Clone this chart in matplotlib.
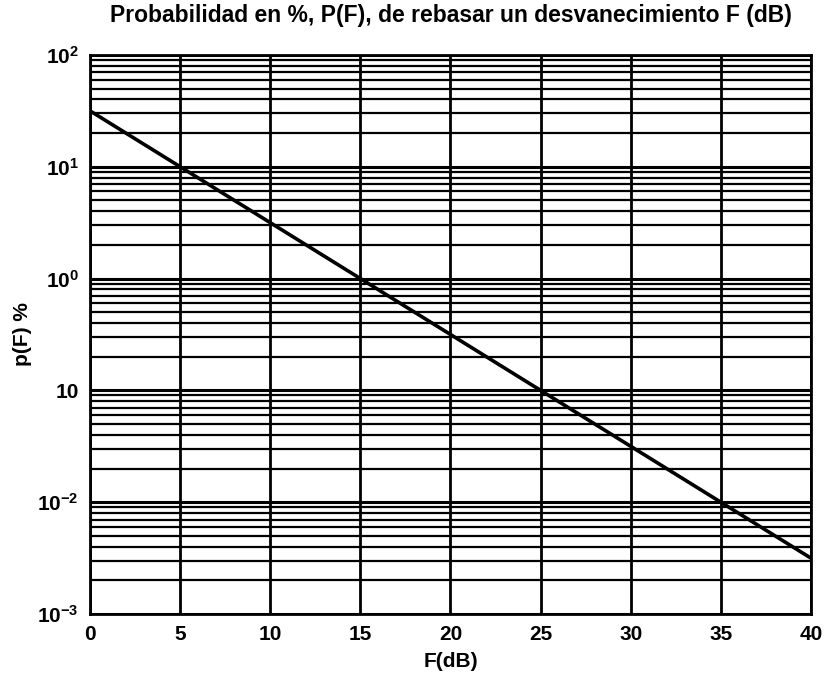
import matplotlib
matplotlib.use("Agg")
import matplotlib.pyplot as plt
import numpy as np
from matplotlib.ticker import FixedLocator, LogLocator, NullFormatter

plt.rcParams['font.family'] = ['Liberation Sans', 'DejaVu Sans']
plt.rcParams['mathtext.fontset'] = 'custom'
plt.rcParams['mathtext.rm'] = 'Liberation Sans:bold'
plt.rcParams['mathtext.it'] = 'Liberation Sans:bold'
plt.rcParams['mathtext.bf'] = 'Liberation Sans:bold'

# curve
fade_db = [0, 5, 10, 15, 20, 25, 30, 35, 40]
prob_pct = [31.6, 10, 3.16, 1.0, 0.316, 0.1, 0.0316, 0.01, 0.00316]

x_ticks = [0, 5, 10, 15, 20, 25, 30, 35, 40]
y_ticks = [1e-3, 1e-2, 1e-1, 1e0, 1e1, 1e2]
y_labels = [r'$10^{-3}$', r'$10^{-2}$', '10', r'$10^{0}$', r'$10^{1}$', r'$10^{2}$']

fig = plt.figure(figsize=(8.25, 6.77), dpi=100)
ax = fig.add_axes([0.109, 0.093, 0.874, 0.826])

ax.plot(fade_db, prob_pct, color='black', lw=2.6)

ax.set_yscale('log')
ax.set_xlim(0, 40)
ax.set_ylim(1e-3, 1e2)

ax.xaxis.set_major_locator(FixedLocator(x_ticks))
ax.set_xticklabels([str(v) for v in x_ticks], fontsize=15, fontweight='bold')
ax.yaxis.set_major_locator(FixedLocator(y_ticks))
ax.set_yticklabels(y_labels, fontsize=15, fontweight='bold')
ax.yaxis.set_minor_locator(LogLocator(base=10, subs=np.arange(2, 10)))
ax.yaxis.set_minor_formatter(NullFormatter())

ax.grid(True, which='major', axis='x', color='black', lw=2.0)
ax.grid(True, which='major', axis='y', color='black', lw=2.2)
ax.grid(True, which='minor', axis='y', color='black', lw=1.6)
ax.tick_params(which='both', length=0, pad=8)
for s in ax.spines.values():
    s.set_linewidth(2.0)

ax.set_title('Probabilidad en %, P(F), de rebasar un desvanecimiento F (dB)',
             fontsize=16.5, fontweight='bold', pad=24)
ax.set_xlabel('F(dB)', fontsize=15, fontweight='bold', labelpad=6)
ax.set_ylabel('p(F) %', fontsize=15, fontweight='bold', labelpad=4)

fig.savefig('out.png', dpi=100)
